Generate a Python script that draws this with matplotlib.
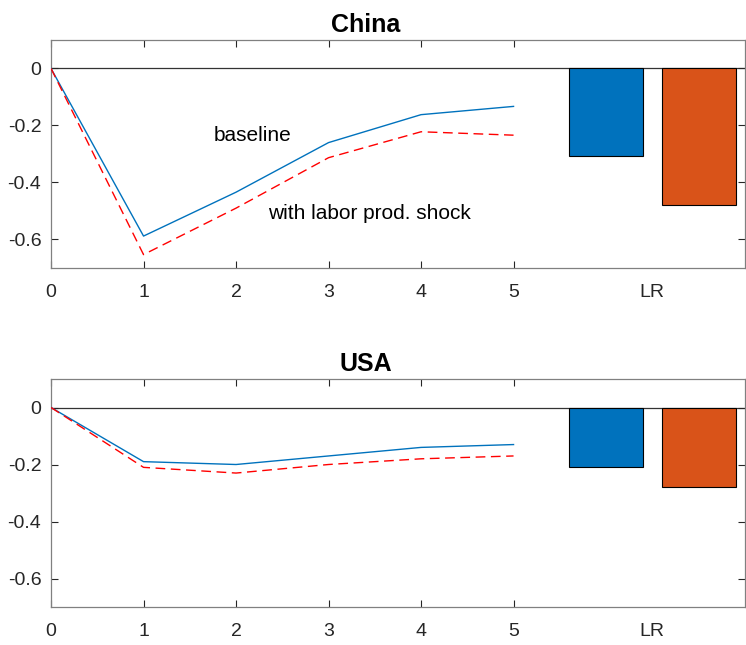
import matplotlib
matplotlib.use("Agg")
import matplotlib.pyplot as plt

plt.rcParams['font.family'] = ['Liberation Sans', 'DejaVu Sans']

periods = [0, 1, 2, 3, 4, 5]
china_base = [0, -0.588, -0.434, -0.26, -0.162, -0.133]
china_shock = [0, -0.653, -0.49, -0.313, -0.222, -0.234]
china_lr = [-0.308, -0.478]
usa_base = [0, -0.19, -0.2, -0.17, -0.14, -0.13]
usa_shock = [0, -0.21, -0.23, -0.2, -0.18, -0.17]
usa_lr = [-0.21, -0.28]
lr_pos = [6, 7]
bar_colors = ['#0072BD', '#D95319']
xticklabels = ['0', '1', '2', '3', '4', '5', 'LR']
yticks = [0, -0.2, -0.4, -0.6]
yticklabels = ['0', '-0.2', '-0.4', '-0.6']


def panel(ax, title, base, shock, lr):
    ax.axhline(0, color='#333333', lw=0.9, zorder=1)
    ax.plot(periods, base, color='#0072BD', lw=1.0, zorder=3)
    ax.plot(periods, shock, color='red', lw=1.0, dashes=(7, 4), zorder=3)
    ax.bar(lr_pos, lr, width=0.8, color=bar_colors, edgecolor='black', lw=0.8, zorder=2)
    ax.set_xlim(0, 7.5)
    ax.set_ylim(-0.7, 0.1)
    ax.set_xticks(periods + [6.5])
    ax.set_xticklabels(xticklabels)
    ax.set_yticks(yticks)
    ax.set_yticklabels(yticklabels)
    ax.tick_params(direction='in', top=True, right=True, labelsize=14,
                   length=5, width=0.8, colors='#262626')
    ax.tick_params(axis='x', pad=11.5)
    ax.tick_params(axis='y', pad=7)
    # no tick mark for the LR label
    lr_tick = ax.xaxis.get_major_ticks()[-1]
    lr_tick.tick1line.set_visible(False)
    lr_tick.tick2line.set_visible(False)
    for s in ax.spines.values():
        s.set_color('#808080')
        s.set_linewidth(0.9)
    ax.set_title(title, fontsize=18, fontweight='bold', pad=6, x=0.454)


fig = plt.figure(figsize=(7.46, 6.45), dpi=100)
ax1 = fig.add_axes([0.0684, 0.5845, 0.930, 0.3535])
ax2 = fig.add_axes([0.0684, 0.0589, 0.930, 0.3535])

panel(ax1, 'China', china_base, china_shock, china_lr)
panel(ax2, 'USA', usa_base, usa_shock, usa_lr)

ax1.text(2.18, -0.235, 'baseline', ha='center', va='center', fontsize=15)
ax1.text(3.44, -0.51, 'with labor prod. shock', ha='center', va='center', fontsize=15)

fig.savefig('out.png', dpi=100)
